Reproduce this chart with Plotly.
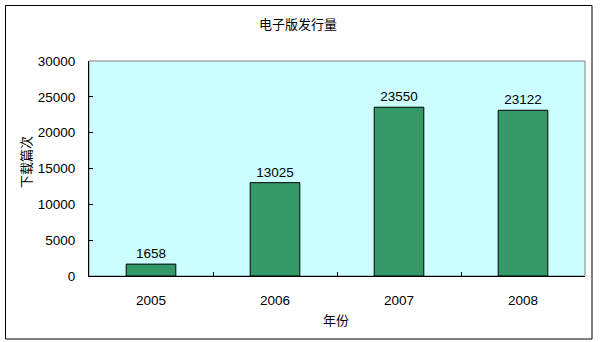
import plotly.graph_objects as go

years = ["2005", "2006", "2007", "2008"]
downloads = [1658, 13025, 23550, 23122]
y_ticks = [0, 5000, 10000, 15000, 20000, 25000, 30000]
y_tick_labels = ["0", "5000", "10000", "15000", "20000", "25000", "30000"]

W, H = 600, 342
L, R, T, B = 89, 585, 61, 276  # plot area pixel bounds

def px(x):
    return (x - L) / (R - L)

def py(y):
    return (B - y) / (B - T)

num_font = dict(family="Liberation Sans, Arial, sans-serif", size=13.5, color="black")
cjk_font = dict(family="Noto Sans CJK SC, sans-serif", size=13, color="black")

fig = go.Figure(go.Bar(
    x=years, y=downloads,
    marker=dict(color="#339966", line=dict(color="black", width=1)),
    text=[str(v) for v in downloads], textposition="outside",
    textfont=num_font, cliponaxis=False, width=0.4,
))

fig.update_layout(
    width=W, height=H,
    margin=dict(l=L, r=W - R, t=T, b=H - B),
    paper_bgcolor="white", plot_bgcolor="#CCFFFF",
    showlegend=False,
    xaxis=dict(type="category", showline=True, linecolor="black", linewidth=1,
               ticks="inside", ticklen=4, tickcolor="black", tickson="boundaries",
               tickfont=num_font, showgrid=False, ticklabelstandoff=12, fixedrange=True),
    yaxis=dict(range=[0, 30000], tickvals=y_ticks, ticktext=y_tick_labels,
               showline=True, linecolor="black",
               linewidth=1, ticks="inside", ticklen=4, tickcolor="black",
               tickfont=num_font, showgrid=False, zeroline=False,
               ticklabelstandoff=10, fixedrange=True),
    shapes=[
        dict(type="rect", xref="paper", yref="paper", x0=0, x1=1, y0=0, y1=1,
             line=dict(color="#808080", width=1), layer="below"),
        dict(type="rect", xref="paper", yref="paper", x0=px(5.5), x1=px(592), y0=py(339), y1=py(5.5),
             line=dict(color="black", width=1), layer="above"),
    ],
    annotations=[
        dict(text="电子版发行量", xref="paper", yref="paper", x=px(298), y=py(24),
             showarrow=False, font=cjk_font, xanchor="center", yanchor="middle"),
        dict(text="年份", xref="paper", yref="paper", x=px(336), y=py(319),
             showarrow=False, font=cjk_font, xanchor="center", yanchor="middle"),
        dict(text="下载篇次", xref="paper", yref="paper", x=px(25), y=py(162),
             showarrow=False, font=cjk_font, textangle=-90, xanchor="center", yanchor="middle"),
    ],
)

fig.write_html("out.html")
